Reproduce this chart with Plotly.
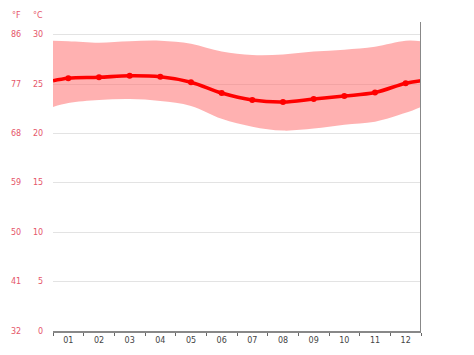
import plotly.graph_objects as go

months = ["01", "02", "03", "04", "05", "06", "07", "08", "09", "10", "11", "12"]
# edge positions (0.5 and 12.5) included so the curves span the full plot width
x_pos = [0.5, 1, 2, 3, 4, 5, 6, 7, 8, 9, 10, 11, 12, 12.5]
avg_temp = [25.35, 25.6, 25.7, 25.85, 25.75, 25.2, 24.1, 23.4, 23.2, 23.5, 23.8, 24.15, 25.1, 25.35]
max_temp = [29.4, 29.35, 29.2, 29.35, 29.4, 29.1, 28.3, 27.95, 28.0, 28.3, 28.5, 28.8, 29.4, 29.35]
min_temp = [22.7, 23.1, 23.4, 23.5, 23.3, 22.8, 21.5, 20.7, 20.3, 20.5, 20.9, 21.2, 22.1, 22.7]
c_ticks = [0, 5, 10, 15, 20, 25, 30]
f_ticks = ["32", "41", "50", "59", "68", "77", "86"]

RED = "#ff0000"
LABEL_RED = "#e5566a"
FONT = "DejaVu Sans"

fig = go.Figure()
fig.add_trace(go.Scatter(x=x_pos, y=max_temp, mode="lines", line=dict(width=0, shape="spline"),
                         hoverinfo="skip", showlegend=False))
fig.add_trace(go.Scatter(x=x_pos, y=min_temp, mode="lines", line=dict(width=0, shape="spline"),
                         fill="tonexty", fillcolor="rgba(255,105,105,0.52)", hoverinfo="skip", showlegend=False))
fig.add_trace(go.Scatter(x=x_pos, y=avg_temp, mode="lines", line=dict(color=RED, width=3.6, shape="spline"),
                         showlegend=False))
fig.add_trace(go.Scatter(x=x_pos[1:-1], y=avg_temp[1:-1], mode="markers",
                         marker=dict(color=RED, size=6), showlegend=False))

annotations = []
for c, f in zip(c_ticks, f_ticks):
    annotations.append(dict(x=-0.022, y=c, xref="paper", yref="y", text=str(c), showarrow=False,
                            xanchor="right", yanchor="middle", font=dict(family=FONT, size=8, color=LABEL_RED)))
    annotations.append(dict(x=-0.082, y=c, xref="paper", yref="y", text=f, showarrow=False,
                            xanchor="right", yanchor="middle", font=dict(family=FONT, size=8, color=LABEL_RED)))
annotations.append(dict(x=-0.082, y=1.0, xref="paper", yref="paper", text="°F", showarrow=False,
                        xanchor="right", yanchor="bottom", font=dict(family=FONT, size=8, color=LABEL_RED)))
annotations.append(dict(x=-0.022, y=1.0, xref="paper", yref="paper", text="°C", showarrow=False,
                        xanchor="right", yanchor="bottom", font=dict(family=FONT, size=8, color=LABEL_RED)))

# page body has an 8px default margin; compensate so the plot area lands at x 53-421, y 22-331
fig.update_layout(
    width=466, height=347,
    margin=dict(l=45, r=53, t=14, b=24),
    paper_bgcolor="white", plot_bgcolor="white",
    annotations=annotations,
    shapes=[dict(type="line", xref="x", yref="paper", x0=12.5, x1=12.5, y0=0, y1=1,
                 line=dict(color="#888888", width=2))],
    xaxis=dict(range=[0.5, 12.5], tickvals=list(range(1, 13)), ticktext=months, ticks="",
               automargin=False,
               showgrid=False, zeroline=False, showline=True, linecolor="#888888", linewidth=2,
               tickfont=dict(family=FONT, size=8, color="#444444"),
               minor=dict(tickvals=[i + 0.5 for i in range(0, 13)], ticks="outside", ticklen=3,
                          tickcolor="#666666", showgrid=False)),
    yaxis=dict(range=[0, 31.3], tickvals=c_ticks, showticklabels=False, ticks="", automargin=False,
               showgrid=True, gridcolor="#e3e3e3", gridwidth=1, zeroline=False, showline=False),
)

fig.write_html("out.html")
